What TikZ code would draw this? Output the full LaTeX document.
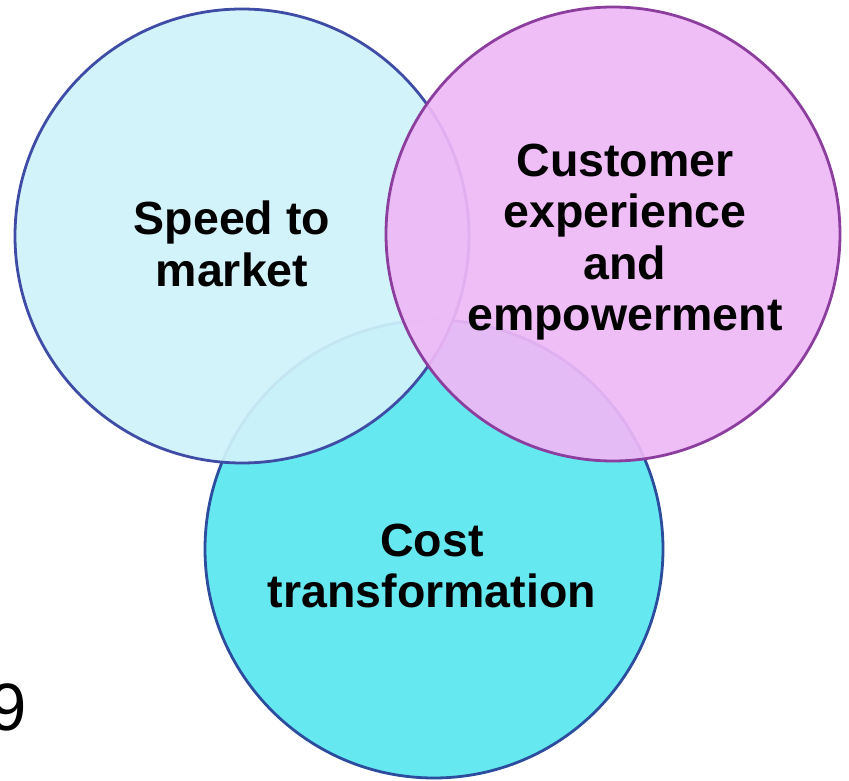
\documentclass[tikz,border=0pt]{standalone}
\usepackage{fontspec}
\setmainfont{Liberation Sans}
\definecolor{bluefill}{HTML}{D0F2FA}
\definecolor{blueedge}{HTML}{3E4CA6}
\definecolor{pinkfill}{HTML}{EFB8F6}
\definecolor{pinkedge}{HTML}{8C3E9E}
\definecolor{cyanfill}{HTML}{66E8F0}
\definecolor{cyanedge}{HTML}{2C4C9E}
\tikzset{
  venn/.style={circle, line width=2.8pt, minimum size=454pt, inner sep=0pt},
  lbl/.style={font=\fontsize{46.5}{51.5}\selectfont\bfseries, align=center, text=black}
}
\begin{document}
\begin{tikzpicture}[x=1pt,y=-1pt]
\useasboundingbox (0,0) rectangle (849,781);
\node[venn, draw=cyanedge, fill=cyanfill, minimum size=458pt] (cost) at (434,549) {};
\node[venn, draw=blueedge, fill=bluefill, fill opacity=0.93, draw opacity=1] (speed) at (242,236) {};
\node[venn, draw=pinkedge, fill=pinkfill, fill opacity=0.92, draw opacity=1] (cust) at (613,234) {};
\node[lbl] (tspeed) at (232,244) {Speed to\\market};
\node[lbl] (tcust) at (625,242) {Customer\\experience\\and\\empowerment};
\node[lbl] (tcost) at (432,566) {Cost\\transformation};
\node[font=\fontsize{67}{70}\selectfont, anchor=base east, inner sep=0pt] (nine) at (27,730) {9};
\end{tikzpicture}
\end{document}
